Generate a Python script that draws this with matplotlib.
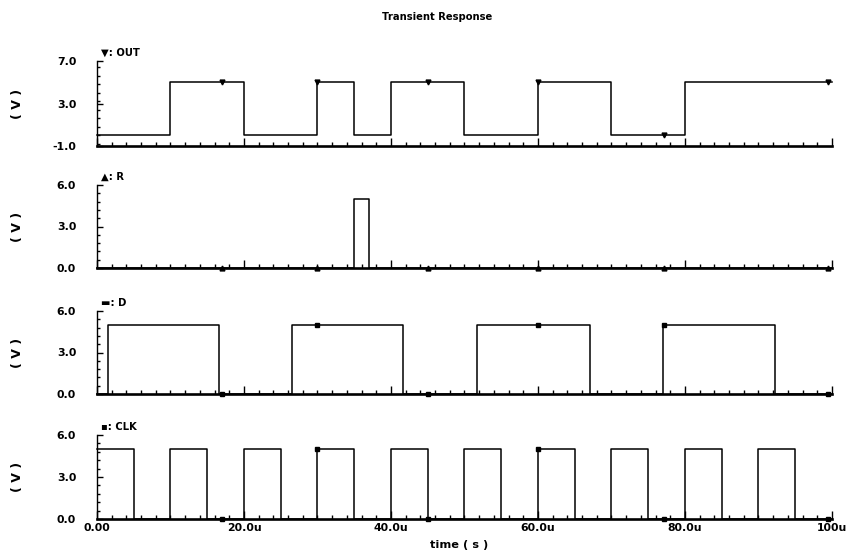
import numpy as np
import matplotlib
matplotlib.use("Agg")
import matplotlib.pyplot as plt
from matplotlib.ticker import MultipleLocator, FixedLocator

# ---- signal data (times in microseconds, levels in volts) ----
t_end = 100.0
v_high = 5.0
v_low = 0.0

clk_rise = [0.0, 10.0, 20.0, 30.0, 40.0, 50.0, 60.0, 70.0, 80.0, 90.0]
clk_fall = [5.0, 15.0, 25.0, 35.0, 45.0, 55.0, 65.0, 75.0, 85.0, 95.0]

d_rise = [1.5, 26.5, 51.7, 77.0]
d_fall = [16.6, 41.7, 67.1, 92.3]

r_rise = [35.0]
r_fall = [37.0]

out_rise = [10.0, 30.0, 40.0, 60.0, 80.0]
out_fall = [20.0, 35.0, 50.0, 70.0]

# sample points where the simulator drew its trace symbols
marker_t = [17.0, 30.0, 45.0, 60.0, 77.2, 99.5]

x_ticks = [0, 20, 40, 60, 80, 100]
x_ticklabels = ["0.00", "20.0u", "40.0u", "60.0u", "80.0u", "100u"]


def waveform(rises, falls):
    """Build step-wise (time, value) arrays from edge lists."""
    edges = sorted([(t, v_high) for t in rises] + [(t, v_low) for t in falls])
    t = [0.0]
    v = [v_low]
    for te, ve in edges:
        if te == 0.0:
            v[0] = ve
        else:
            t.append(te)
            v.append(ve)
    t.append(t_end)
    v.append(v[-1])
    return np.array(t), np.array(v)


def value_at(t_arr, v_arr, tq):
    idx = np.searchsorted(t_arr, tq, side="right") - 1
    return v_arr[np.clip(idx, 0, len(v_arr) - 1)]


traces = [
    ("\u25BC: OUT", out_rise, out_fall, "v", 3.5, (-1.0, 7.0), [7.0, 3.0, -1.0], ["7.0", "3.0", "-1.0"]),
    ("\u25B2: R", r_rise, r_fall, "^", 3.5, (0.0, 6.0), [6.0, 3.0, 0.0], ["6.0", "3.0", "0.0"]),
    ("\u25AC: D", d_rise, d_fall, "s", 2.6, (0.0, 6.0), [6.0, 3.0, 0.0], ["6.0", "3.0", "0.0"]),
    ("\u25AA: CLK", clk_rise, clk_fall, "s", 2.6, (0.0, 6.0), [6.0, 3.0, 0.0], ["6.0", "3.0", "0.0"]),
]

W, H = 854, 554
fig = plt.figure(figsize=(W / 100, H / 100), dpi=100)
fig.patch.set_facecolor("white")

left_px, right_px = 97, 832
panels_px = [(61, 146), (185, 268), (311, 394), (435, 519)]

font = dict(family="DejaVu Sans", weight="bold")

for i, (label, rises, falls, mk, ms, ylim, yt, ytl) in enumerate(traces):
    top, bot = panels_px[i]
    ax = fig.add_axes([left_px / W, (H - bot) / H, (right_px - left_px) / W, (bot - top) / H])
    t, v = waveform(rises, falls)
    ax.plot(t, v, drawstyle="steps-post", color="black", lw=1.1, clip_on=False, zorder=3)
    mv = value_at(t, v, np.array(marker_t))
    ax.plot(marker_t, mv, linestyle="none", marker=mk, color="black",
            markersize=ms, clip_on=False, zorder=4)

    ax.set_xlim(0, t_end)
    ax.set_ylim(*ylim)
    for s in ("top", "right"):
        ax.spines[s].set_visible(False)
    ax.spines["bottom"].set_linewidth(1.9)
    ax.spines["left"].set_linewidth(1.0)

    ax.xaxis.set_major_locator(FixedLocator(x_ticks))
    ax.xaxis.set_minor_locator(MultipleLocator(2))
    ax.yaxis.set_major_locator(FixedLocator(yt))
    ax.yaxis.set_minor_locator(MultipleLocator((ylim[1] - ylim[0]) / 10))
    ax.tick_params(axis="x", which="major", direction="in", length=6, width=1.0, pad=3)
    ax.tick_params(axis="x", which="minor", direction="in", length=3, width=1.0)
    ax.tick_params(axis="y", which="major", direction="in", length=4, width=1.0, pad=15)
    ax.tick_params(axis="y", which="minor", direction="in", length=2.5, width=1.0)

    ax.set_yticklabels(ytl, fontsize=7.8, **font)
    if i == len(traces) - 1:
        ax.set_xticklabels(x_ticklabels, fontsize=7.8, **font)
    else:
        ax.set_xticklabels([])

    ax.set_ylabel("( V )", fontsize=9, **font)
    ax.yaxis.set_label_coords(-0.1, 0.5)
    ax.text(0.005, 1.04, label, transform=ax.transAxes, fontsize=7.2, ha="left",
            va="bottom", **font)
    ax.set_facecolor("none")

fig.text(437 / W, 1 - 17 / H, "Transient Response", ha="center", va="center",
         fontsize=7.2, **font)
fig.text(459 / W, 1 - 545 / H, "time ( s )", ha="center", va="center",
         fontsize=8.2, **font)

fig.savefig("out.png", dpi=100, facecolor="white")
